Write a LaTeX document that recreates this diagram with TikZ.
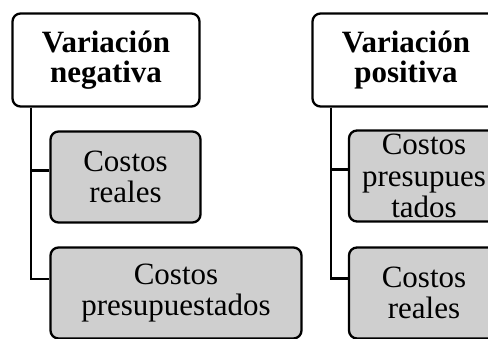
\documentclass[tikz,border=0pt]{standalone}
\usepackage{fontspec}
\setmainfont{Liberation Serif}
\usepackage{xcolor}
\definecolor{itemgray}{RGB}{207,207,207}

\begin{document}
\begin{tikzpicture}[x=1pt, y=-1pt]
			\tikzstyle{headnode}=[
			draw,
			rectangle,
			rounded corners=8pt,
			line width=2.3pt,
			fill=white,
			minimum width=187pt,
			minimum height=93pt,
			inner sep=0pt,
			align=center,
			font=\fontsize{31}{30}\selectfont\bfseries
			]
			\tikzstyle{itemnode}=[
			draw,
			rectangle,
			rounded corners=8pt,
			line width=2.3pt,
			fill=itemgray,
			minimum height=91pt,
			inner sep=0pt,
			align=center,
			font=\fontsize{31}{31.5}\selectfont
			]
			\tikzstyle{link}=[line width=2.3pt]
			\useasboundingbox (0,0) rectangle (488,338);
			\clip (0,0) rectangle (488,338);
			%
			\node[headnode] (NEG) at (106,60) {Variación\\negativa};
			\node[itemnode, minimum width=150pt] (NEGA) at (125.5,177) {Costos\\reales};
			\node[itemnode, minimum width=251pt] (NEGB) at (176,293) {Costos\\presupuestados};
			%
			\node[headnode] (POS) at (406,60) {Variación\\positiva};
			\node[itemnode, minimum width=150pt] (POSA) at (424,176) {Costos\\presupues\\tados};
			\node[itemnode, minimum width=150pt] (POSB) at (424,293) {Costos\\reales};
			%
			\draw[link] ([xshift=19.5pt]NEG.south west) |- ([yshift=-40pt]NEGA.north west);
			\draw[link] ([xshift=19.5pt]NEG.south west) |- ([yshift=-32.5pt]NEGB.north west);
			\draw[link] ([xshift=19.5pt]POS.south west) |- ([yshift=-40pt]POSA.north west);
			\draw[link] ([xshift=19.5pt]POS.south west) |- ([yshift=-32pt]POSB.north west);
		\end{tikzpicture}
\end{document}
